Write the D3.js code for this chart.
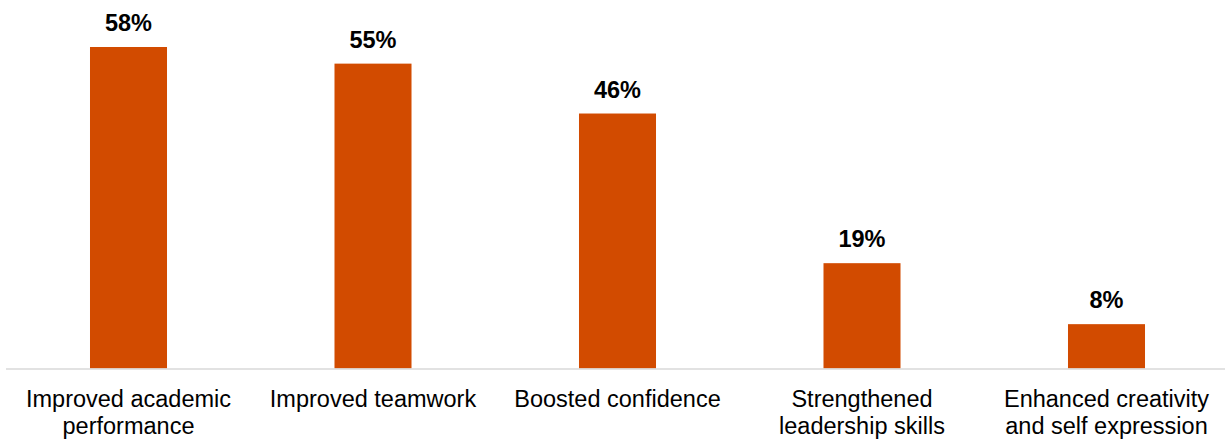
<!DOCTYPE html>
<html>
<head>
<meta charset="utf-8">
<script src="https://cdn.jsdelivr.net/npm/d3@7"></script>
<style>
  html, body { margin: 0; padding: 0; background: #ffffff; }
  svg { display: block; font-family: "Liberation Sans", Arial, sans-serif; }
</style>
</head>
<body>
<svg id="chart" width="1225" height="441"></svg>
<script>
// Reported benefits (share of respondents)
const categories = [
  ["Improved academic", "performance"],
  ["Improved teamwork"],
  ["Boosted confidence"],
  ["Strengthened", "leadership skills"],
  ["Enhanced creativity", "and self expression"]
];
const values = [58, 55, 46, 19, 8];
const valueLabels = ["58%", "55%", "46%", "19%", "8%"];

const W = 1225, H = 441;
const baseline = 368.5, topY = 47;
const barColor = "#D24B00";

const svg = d3.select("#chart");
const keys = categories.map((c, i) => i);

const x = d3.scaleBand()
  .domain(keys)
  .range([6.25, 1228.75])
  .paddingInner(0.685)
  .paddingOuter(0.3425);

const y = d3.scaleLinear()
  .domain([0, d3.max(values)])
  .range([baseline, topY]);

// bars
svg.append("g")
  .selectAll("rect")
  .data(values)
  .join("rect")
  .attr("x", (d, i) => x(i))
  .attr("y", d => y(d))
  .attr("width", x.bandwidth())
  .attr("height", d => y(0) - y(d))
  .attr("fill", barColor);

// category axis
const axis = svg.append("g")
  .attr("transform", `translate(0,${baseline + 0.5})`)
  .call(d3.axisBottom(x).tickSize(0).tickFormat(""));
axis.select(".domain")
  .attr("d", `M6,0H${W}`)
  .attr("stroke", "#d9d9d9")
  .attr("stroke-width", 1.5);

// category labels (wrapped)
const lab = svg.append("g")
  .selectAll("text")
  .data(categories)
  .join("text")
  .attr("x", (d, i) => x(i) + x.bandwidth() / 2)
  .attr("y", 406.5)
  .attr("text-anchor", "middle")
  .attr("font-size", "23.5px")
  .attr("fill", "#000");
lab.selectAll("tspan")
  .data(d => d)
  .join("tspan")
  .attr("x", function () { return this.parentNode.getAttribute("x"); })
  .attr("dy", (d, j) => j === 0 ? 0 : 27.5)
  .text(d => d);

// value labels
svg.append("g")
  .selectAll("text")
  .data(values)
  .join("text")
  .attr("x", (d, i) => x(i) + x.bandwidth() / 2)
  .attr("y", d => y(d) - 16)
  .attr("text-anchor", "middle")
  .attr("font-size", "23.5px")
  .attr("font-weight", "bold")
  .attr("fill", "#000")
  .text((d, i) => valueLabels[i]);
</script>
</body>
</html>
